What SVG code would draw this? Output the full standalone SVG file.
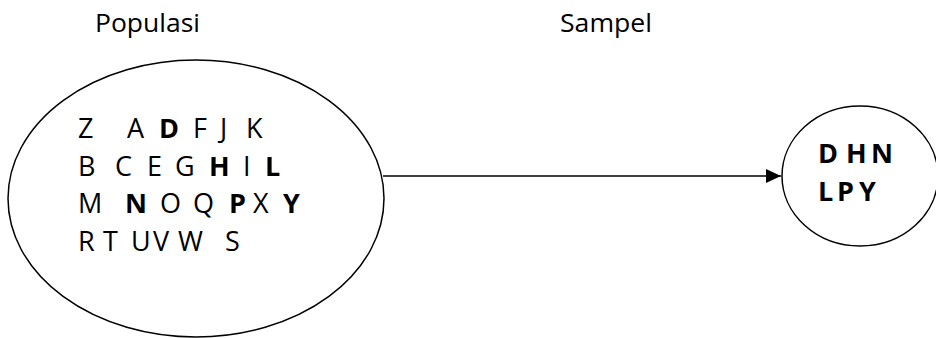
<svg xmlns="http://www.w3.org/2000/svg" width="936" height="338" viewBox="0 0 936 338">
<style>
text{font-family:"Open Sans","DejaVu Sans",sans-serif;font-size:27px;fill:#000}
.lbl{font-size:26px}
.b{font-weight:bold}
.shape{fill:#fff;stroke:#000;stroke-width:1.5}
.conn{stroke:#000;stroke-width:1.5;fill:none}
</style>
<defs>
<marker id="arr" markerWidth="16" markerHeight="14" refX="15" refY="7" orient="auto" markerUnits="userSpaceOnUse">
<path d="M0,0 L15,7 L0,14 Z" fill="#000"/>
</marker>
</defs>
<rect width="936" height="338" fill="#fff"/>
<text class="lbl" x="95" y="32" textLength="105" lengthAdjust="spacingAndGlyphs">Populasi</text>
<text class="lbl" x="560" y="32" textLength="92" lengthAdjust="spacingAndGlyphs">Sampel</text>
<g id="populasi">
<ellipse class="shape" cx="196" cy="198.5" rx="188" ry="138.5"/>
<text y="138"><tspan x="78">Z</tspan><tspan x="127">A</tspan><tspan x="159" class="b">D</tspan><tspan x="193">F</tspan><tspan x="220">J</tspan><tspan x="246">K</tspan></text>
<text y="176"><tspan x="78">B</tspan><tspan x="115">C</tspan><tspan x="147">E</tspan><tspan x="175">G</tspan><tspan x="209" class="b">H</tspan><tspan x="243">I</tspan><tspan x="265" class="b">L</tspan></text>
<text y="213"><tspan x="78">M</tspan><tspan x="125" class="b">N</tspan><tspan x="160">O</tspan><tspan x="193">Q</tspan><tspan x="229" class="b">P</tspan><tspan x="253">X</tspan><tspan x="283" class="b">Y</tspan></text>
<text y="251"><tspan x="78">R</tspan><tspan x="103">T</tspan><tspan x="131">U</tspan><tspan x="153">V</tspan><tspan x="178">W</tspan><tspan x="225">S</tspan></text>
</g>
<g id="sampel">
<ellipse class="shape" cx="860" cy="176" rx="78" ry="70"/>
<text y="163" class="b"><tspan x="818">D</tspan><tspan x="846">H</tspan><tspan x="871">N</tspan></text>
<text y="201" class="b"><tspan x="818">L</tspan><tspan x="837">P</tspan><tspan x="859">Y</tspan></text>
</g>
<g id="connectors">
<line class="conn" x1="383" y1="176" x2="781" y2="176" marker-end="url(#arr)"/>
</g>
</svg>
